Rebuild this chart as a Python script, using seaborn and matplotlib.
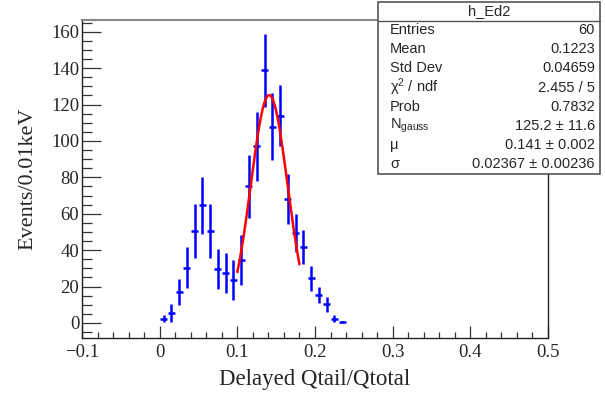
import numpy as np
import pandas as pd
import matplotlib
matplotlib.use("Agg")
import matplotlib.pyplot as plt
from matplotlib.ticker import MultipleLocator
from matplotlib.patches import Rectangle
import seaborn as sns

# histogram h_Ed2, bin width 0.01
bin_centers = [0.005, 0.015, 0.025, 0.035, 0.045, 0.055, 0.065, 0.075,
               0.085, 0.095, 0.105, 0.115, 0.125, 0.135, 0.145, 0.155,
               0.165, 0.175, 0.185, 0.195, 0.205, 0.215, 0.225, 0.235]
counts = [2.4, 5.5, 17.1, 30.4, 50.3, 64.7, 50.3, 29.5,
          27.3, 23.6, 34.7, 75.2, 97.0, 138.8, 107.9, 114.0,
          67.9, 49.4, 41.5, 24.5, 15.3, 10.3, 2.4, 0.4]
errors = [1.8, 4.9, 7.1, 11.3, 14.8, 15.6, 14.8, 11.1,
          11.0, 11.0, 13.6, 17.3, 19.2, 20.0, 18.4, 16.8,
          13.8, 10.7, 9.3, 6.9, 4.4, 4.1, 2.0, 0.6]

# gaussian fit results
fit_n = 125.2
fit_mu = 0.141
fit_sigma = 0.02367
fit_range = (0.1, 0.18)

stats_rows = [
    ("Entries", "60"),
    ("Mean", "0.1223"),
    ("Std Dev", "0.04659"),
    ("\u03c7$^{2}$ / ndf", "2.455 / 5"),
    ("Prob", "0.7832"),
    (r"N$_{\mathregular{gauss}}$", "125.2 \u00b1 11.6"),
    ("\u03bc", "0.141 \u00b1 0.002"),
    ("\u03c3", "0.02367 \u00b1 0.00236"),
]

sns.set_style("ticks")
plt.rcParams["font.family"] = ["Liberation Serif", "DejaVu Serif"]
plt.rcParams["mathtext.fontset"] = "custom"
plt.rcParams["mathtext.rm"] = "Liberation Sans"
plt.rcParams["mathtext.it"] = "Liberation Sans:italic"

fig = plt.figure(figsize=(6.05, 3.97), dpi=100)
ax = fig.add_axes([82 / 605, 1 - 338 / 397, (548 - 82) / 605, (338 - 20) / 397])

ax.errorbar(bin_centers, counts, yerr=errors, xerr=0.0045, fmt="none",
            ecolor="#0000ff", elinewidth=1.8, capsize=0)

xf = np.linspace(fit_range[0], fit_range[1], 200)
fit_df = pd.DataFrame({"x": xf,
                       "y": fit_n * np.exp(-0.5 * ((xf - fit_mu) / fit_sigma) ** 2)})
sns.lineplot(data=fit_df, x="x", y="y", ax=ax, color="#ff0000", linewidth=1.8)

ax.set_xlim(-0.1, 0.5)
ax.set_ylim(-8.3, 166.5)
ax.xaxis.set_major_locator(MultipleLocator(0.1))
ax.xaxis.set_minor_locator(MultipleLocator(0.02))
ax.yaxis.set_major_locator(MultipleLocator(20))
ax.yaxis.set_minor_locator(MultipleLocator(5))
ax.set_xticks([-0.1, 0, 0.1, 0.2, 0.3, 0.4, 0.5])
ax.set_xticklabels(["\u22120.1", "0", "0.1", "0.2", "0.3", "0.4", "0.5"])
ax.tick_params(axis="both", which="both", direction="in", labelsize=13.5,
               color="#333333")
ax.tick_params(axis="y", which="major", length=14, width=0.9, pad=2)
ax.tick_params(axis="y", which="minor", length=7, width=0.9)
ax.tick_params(axis="x", which="major", length=9, width=0.9, pad=4)
ax.tick_params(axis="x", which="minor", length=4.5, width=0.9)
for s in ax.spines.values():
    s.set_linewidth(1.0)
    s.set_color("#222222")
ax.spines["top"].set_color("#888888")
ax.spines["top"].set_linewidth(1.5)

ax.set_xlabel("Delayed Qtail/Qtotal", fontsize=16.5, labelpad=6)
ax.set_ylabel("Events/0.01keV", fontsize=16, labelpad=10)

# stats box
W, H = 605, 397
bx0, by0, bx1, by1 = 378, 2, 600, 174
fig.patches.append(Rectangle((bx0 / W, 1 - by1 / H), (bx1 - bx0) / W,
                             (by1 - by0) / H, transform=fig.transFigure,
                             facecolor="white", edgecolor="#555555",
                             linewidth=1.2, zorder=5))
sep_y = 20.5
fig.add_artist(plt.Line2D([bx0 / W, bx1 / W], [1 - sep_y / H, 1 - sep_y / H],
                          transform=fig.transFigure, color="#555555",
                          linewidth=1.0, zorder=6))
sans = ["Liberation Sans", "DejaVu Sans"]
fig.text((bx0 + bx1) / 2 / W, 1 - 11.5 / H, "h_Ed2", ha="center",
         va="center", fontsize=10.5, family=sans, zorder=7)
row_h = (by1 - sep_y) / len(stats_rows)
for i, (name, val) in enumerate(stats_rows):
    yc = sep_y + row_h * (i + 0.5)
    fig.text(390 / W, 1 - yc / H, name, ha="left", va="center",
             fontsize=10.5, family=sans, zorder=7)
    fig.text(595 / W, 1 - yc / H, val, ha="right", va="center",
             fontsize=10.5, family=sans, zorder=7)

fig.savefig("out.png", dpi=100)
